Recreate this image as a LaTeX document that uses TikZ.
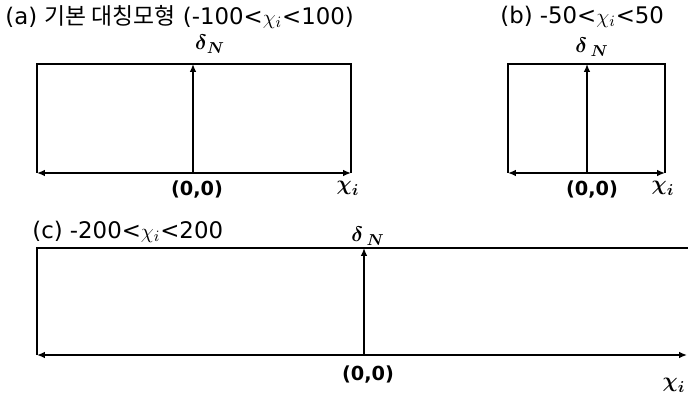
\documentclass[tikz,border=0pt]{standalone}
\usepackage{amsmath,amssymb}
\usepackage{fontspec}
\setmainfont{DejaVu Sans}
\newfontfamily\kr{Noto Sans CJK KR}
\usetikzlibrary{arrows.meta}

\begin{document}
\begin{tikzpicture}[x=0.02cm,y=-0.02cm,
  ax/.style={line width=0.85pt},
  arr/.style={ax,-{Latex[length=4.5pt,width=3.8pt]}},
  ttl/.style={anchor=west,inner sep=0pt,font=\fontsize{13}{14}\selectfont},
  orig/.style={inner sep=0pt,font=\bfseries\fontsize{11}{12}\selectfont},
  dlbl/.style={inner sep=0pt,font=\fontsize{12.5}{13}\selectfont},
  xlbl/.style={inner sep=0pt,font=\fontsize{13}{14}\selectfont}]
\useasboundingbox (0,0) rectangle (688,394);

% (a) basic symmetric model
\coordinate (aO) at (193,173);
\coordinate (aT) at (193,64);
\coordinate (aL) at (37,173);
\coordinate (aR) at (351,173);
\coordinate (aTL) at (37,64);
\coordinate (aTR) at (351,64);
\draw[ax] (aL) -- (aTL) -- (aTR) -- (aR);
\draw[arr] (aO) -- (aT);
\draw[arr] (aO) -- (aL);
\draw[arr] (aO) -- (aR);
\node[ttl] (aTitle) at (5,17) {(a) {\kr 기본 대칭모형} (-100<$\chi_i$<100)};
\node[dlbl] (aDelta) at (210,44) {$\boldsymbol{\delta}_{\boldsymbol{N}}$};
\node[orig] (aZero) at (197,190) {(0,0)};
\node[xlbl] (aChi) at (348,188) {$\boldsymbol{\chi}_{\boldsymbol{i}}$};

% (b)
\coordinate (bO) at (587,173);
\coordinate (bT) at (587,64);
\coordinate (bL) at (508,173);
\coordinate (bR) at (665,173);
\coordinate (bTL) at (508,64);
\coordinate (bTR) at (665,64);
\draw[ax] (bL) -- (bTL) -- (bTR) -- (bR);
\draw[arr] (bO) -- (bT);
\draw[arr] (bO) -- (bL);
\draw[arr] (bO) -- (bR);
\node[ttl] (bTitle) at (500,17) {(b) -50<$\chi_i$<50};
\node[dlbl] (bDelta) at (592,47) {$\boldsymbol{\delta}\,_{\boldsymbol{N}}$};
\node[orig] (bZero) at (592,190) {(0,0)};
\node[xlbl] (bChi) at (663,188) {$\boldsymbol{\chi}_{\boldsymbol{i}}$};

% (c)
\coordinate (cO) at (364,355);
\coordinate (cT) at (364,248);
\coordinate (cL) at (37,355);
\coordinate (cR) at (687,355);
\coordinate (cTL) at (37,248);
\coordinate (cTR) at (688,248);
\draw[ax] (cL) -- (cTL) -- (cTR);
\draw[arr] (cO) -- (cT);
\draw[arr] (cO) -- (cL);
\draw[arr] (cO) -- (cR);
\node[ttl] (cTitle) at (32,232) {(c) -200<$\chi_i$<200};
\node[dlbl] (cDelta) at (368,236) {$\boldsymbol{\delta}\,_{\boldsymbol{N}}$};
\node[orig] (cZero) at (368,375) {(0,0)};
\node[xlbl] (cChi) at (674,385) {$\boldsymbol{\chi}_{\boldsymbol{i}}$};
\end{tikzpicture}
\end{document}
